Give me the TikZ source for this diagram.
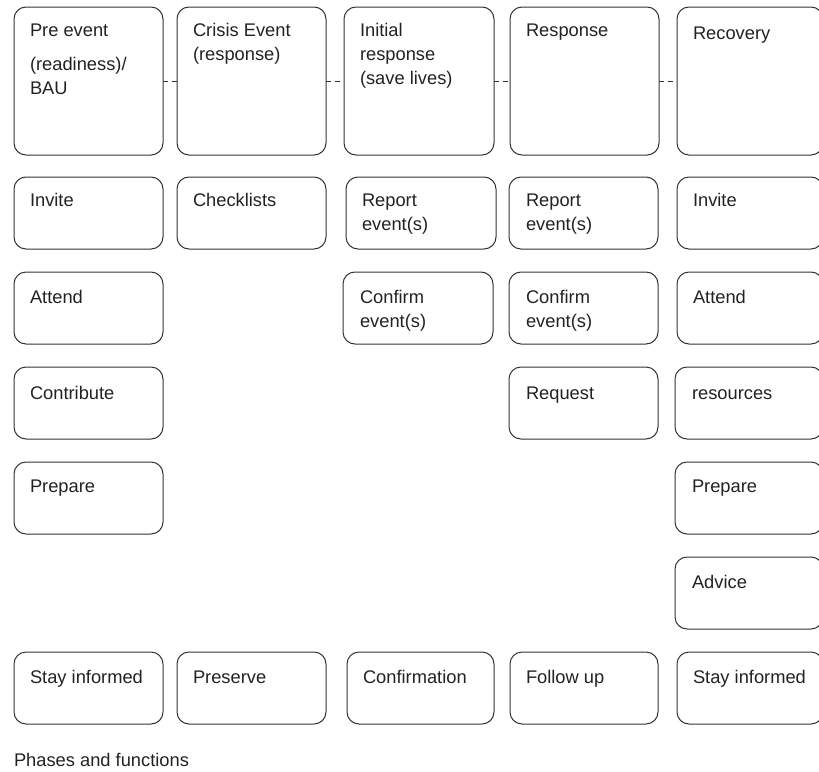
\documentclass[tikz,border=0pt]{standalone}
\usepackage{fontspec}
\setmainfont{Liberation Sans}
\definecolor{edge}{HTML}{333333}
\definecolor{ink}{HTML}{222222}
\tikzset{
  box/.style={draw=edge, line width=1pt, rounded corners=12pt, inner sep=0pt, outer sep=0pt},
  lbl/.style={anchor=base west, inner sep=0pt, outer sep=0pt, align=left, text=ink,
              font=\fontsize{18.3}{24}\selectfont},
  conn/.style={draw=edge, line width=0.9pt, dash pattern=on 5pt off 4pt}
}
\newcommand\bx[5]{\node[box, minimum width={#4-#2}, minimum height={#5-#3}] (#1) at ({(#2+#4)/2},{(#3+#5)/2}) {};}
\begin{document}
\begin{tikzpicture}[x=1pt, y=-1pt]
\useasboundingbox (0,0) rectangle (819,771);
% top row
\bx{p1}{14}{7}{163}{155}
\bx{p2}{177}{7}{326}{155}
\bx{p3}{344}{7}{494}{155}
\bx{p4}{510}{7}{659}{155}
\bx{p5}{677}{7}{823}{155}
% multi-line labels are placed by the baseline of their last line
\node[lbl] (tp1) at (30,94) {Pre event\\[10pt](readiness)/\\BAU};
\node[lbl] (tp2) at (193,60) {Crisis Event\\(response)};
\node[lbl] (tp3) at (360,84) {Initial\\response\\(save lives)};
\node[lbl] (tp4) at (526,36) {Response};
\node[lbl] (tp5) at (693,39) {Recovery};
\draw[conn] (p1.east) -- (p2.west);
\draw[conn] (p2.east) -- (p3.west);
\draw[conn] (p3.east) -- (p4.west);
\draw[conn] (p4.east) -- (p5.west);
% row 2
\bx{a1}{14}{177}{163}{249}
\bx{a2}{177}{177}{326}{249}
\bx{a3}{346}{177}{496}{249}
\bx{a4}{509}{177}{658}{249}
\bx{a5}{677}{177}{823}{249}
\node[lbl] (ta1) at (30,206) {Invite};
\node[lbl] (ta2) at (193,206) {Checklists};
\node[lbl] (ta3) at (362,230) {Report\\event(s)};
\node[lbl] (ta4) at (526,230) {Report\\event(s)};
\node[lbl] (ta5) at (693,206) {Invite};
% row 3
\bx{b1}{14}{272}{163}{344}
\bx{b3}{343}{272}{493}{344}
\bx{b4}{509}{272}{658}{344}
\bx{b5}{677}{272}{823}{344}
\node[lbl] (tb1) at (30,303) {Attend};
\node[lbl] (tb3) at (360,327) {Confirm\\event(s)};
\node[lbl] (tb4) at (526,327) {Confirm\\event(s)};
\node[lbl] (tb5) at (693,303) {Attend};
% row 4
\bx{c1}{14}{367}{163}{439}
\bx{c4}{509}{367}{658}{439}
\bx{c5}{675}{367}{823}{439}
\node[lbl] (tc1) at (30,399) {Contribute};
\node[lbl] (tc4) at (526,399) {Request};
\node[lbl] (tc5) at (692,399) {resources};
% row 5
\bx{d1}{14}{462}{163}{534}
\bx{d5}{675}{462}{823}{534}
\node[lbl] (td1) at (30,492) {Prepare};
\node[lbl] (td5) at (692,492) {Prepare};
% row 6
\bx{e5}{675}{557}{823}{629}
\node[lbl] (te5) at (692,588) {Advice};
% row 7
\bx{f1}{14}{652}{163}{724}
\bx{f2}{177}{652}{326}{724}
\bx{f3}{347}{652}{494}{724}
\bx{f4}{510}{652}{658}{724}
\bx{f5}{677}{652}{823}{724}
\node[lbl] (tf1) at (30,683) {Stay informed};
\node[lbl] (tf2) at (193,683) {Preserve};
\node[lbl] (tf3) at (363,683) {Confirmation};
\node[lbl] (tf4) at (526,683) {Follow up};
\node[lbl] (tf5) at (693,683) {Stay informed};
% caption
\node[lbl] (cap) at (14,766) {Phases and functions};
\end{tikzpicture}
\end{document}
